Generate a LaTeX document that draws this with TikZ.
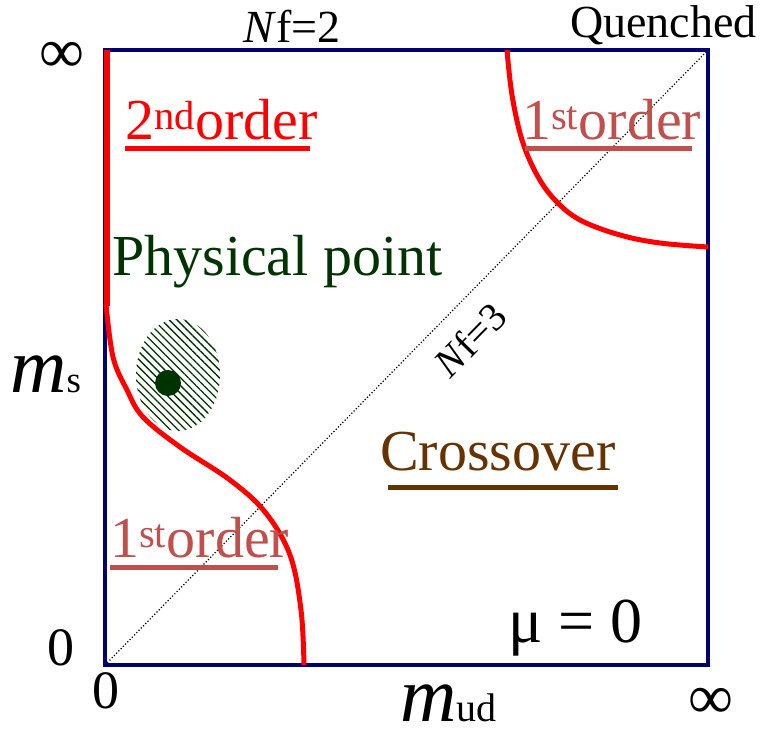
\documentclass[tikz,border=0pt]{standalone}
\usepackage{fontspec}
\setmainfont{Liberation Serif}
\usetikzlibrary{patterns.meta}
\definecolor{boxnavy}{RGB}{0,0,110}
\definecolor{rosy}{RGB}{192,80,77}
\definecolor{dkgreen}{RGB}{0,51,0}
\definecolor{brownish}{RGB}{102,51,0}
\tikzset{
  frame/.style={draw=boxnavy, line width=4.5pt},
  phaseline/.style={draw=red, line width=5pt},
  uline/.style={line width=5pt},
  biglabel/.style={inner sep=0pt, anchor=base west, font=\fontsize{58}{60}\selectfont},
  smalllabel/.style={inner sep=0pt, anchor=base west, font=\fontsize{46}{48}\selectfont},
  numlabel/.style={inner sep=0pt, anchor=base west, font=\fontsize{54}{56}\selectfont},
  inflabel/.style={inner sep=0pt, anchor=center, font=\fontsize{63}{65}\selectfont},
}
\begin{document}
\begin{tikzpicture}[x=1pt,y=-1pt]
\useasboundingbox (0,0) rectangle (766,734);
% corners
\coordinate (bl) at (105,665);
\coordinate (tr) at (708,50);
% diagonal Nf=3
\draw[dotted, line width=1.2pt] (bl) -- (tr);
% hatched region and physical point
\path[pattern={Lines[angle=-45, distance=5.5pt, line width=1.3pt]}, pattern color=dkgreen]
  (178,375) ellipse [x radius=42, y radius=56];
\fill[dkgreen] (168,383) circle [radius=13];
% frame
\draw[frame] (bl) rectangle (tr);
% phase boundaries
\draw[draw=red, line width=6pt] (107,50) -- (107,306);
\draw[phaseline] plot[smooth, tension=0.6] coordinates
  {(106,304) (113,357) (127,390) (143,417) (180,447) (230,480) (265,512) (290,555) (301,610) (304,665)};
\draw[phaseline] plot[smooth, tension=0.6] coordinates
  {(507,50) (512,95) (522,140) (537,175) (555,200) (580,220) (620,235) (660,243) (708,247)};
% region labels
\node[biglabel, text=red] (second) at (125,139) {2\textsuperscript{nd}order};
\draw[uline, red] (125,148) -- (310,148);
\node[biglabel, text=rosy] (firstq) at (522,139) {1\textsuperscript{st}order};
\draw[uline, rosy] (525,148) -- (692,148);
\node[biglabel, text=dkgreen] (phys) at (112,275) {Physical point};
\node[biglabel, text=brownish] (cross) at (380,470) {Crossover};
\draw[uline, brownish] (388,487) -- (618,487);
\node[biglabel, text=rosy] (firstc) at (110,557) {1\textsuperscript{st}order};
\draw[uline, rosy] (110,567) -- (278,567);
\node[biglabel, font=\fontsize{64}{66}\selectfont] (mu) at (508,642) {μ = 0};
% top labels
\node[smalllabel] (nf2) at (243,42) {\textit{N}f=2};
\node[smalllabel] (quen) at (570,37) {Quenched};
\node[inner sep=0pt, rotate=45.6, anchor=center, font=\fontsize{40}{42}\selectfont] (nf3) at (470,340) {\textit{N}f=3};
% axis labels
\node[inflabel] (inftl) at (62,57) {∞};
\node[inflabel] (infbr) at (711,703) {∞};
\node[numlabel] (zeroy) at (47,665) {0};
\node[numlabel] (zerox) at (92,708) {0};
\node[inner sep=0pt, anchor=base west] (ms) at (10,392)
  {\fontsize{78}{80}\selectfont\textit{m}\fontsize{37}{39}\selectfont s};
\node[inner sep=0pt, anchor=base west, text depth=0pt] (mud) at (400,721)
  {\fontsize{78}{80}\selectfont\textit{m}\fontsize{40}{42}\selectfont ud};
\end{tikzpicture}
\end{document}
